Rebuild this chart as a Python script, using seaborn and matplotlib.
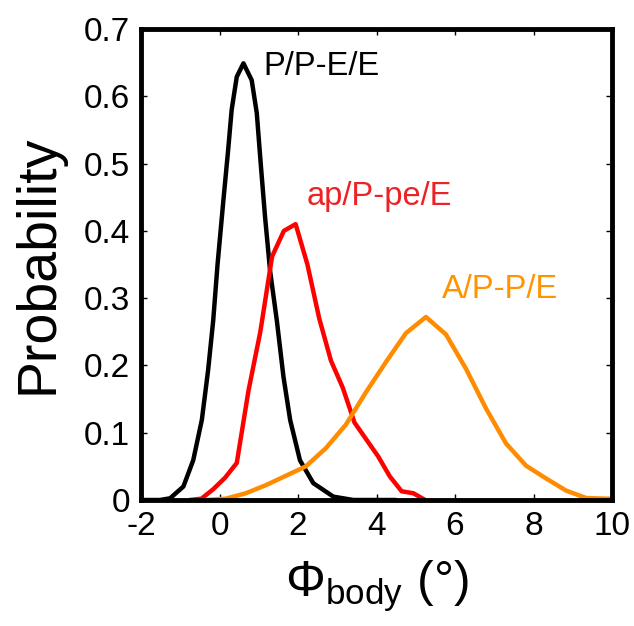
import matplotlib
matplotlib.use('Agg')
import matplotlib.pyplot as plt
import matplotlib.ticker as mticker
import seaborn as sns

# P/P-E/E (black)
pp_x = [-2.0, -1.52, -1.26, -0.92, -0.67, -0.45, -0.29, -0.16, -0.05, 0.10, 0.22, 0.31,
        0.44, 0.61, 0.82, 0.95, 1.05, 1.16, 1.29, 1.46, 1.63, 1.80, 2.05, 2.39, 2.90,
        3.41, 4.5]
pp_y = [0.0, 0.0, 0.0025, 0.02, 0.059, 0.119, 0.193, 0.267, 0.35, 0.446, 0.52, 0.58,
        0.629, 0.649, 0.624, 0.575, 0.50, 0.421, 0.34, 0.267, 0.183, 0.119, 0.059, 0.025,
        0.005, 0.0, 0.0]

# ap/P-pe/E (red)
ap_x = [-0.76, -0.46, -0.16, 0.14, 0.44, 0.74, 1.04, 1.34, 1.64, 1.94, 2.24, 2.54,
        2.84, 3.14, 3.44, 3.74, 4.04, 4.34, 4.64, 4.94, 5.24]
ap_y = [0.0, 0.002, 0.016, 0.033, 0.055, 0.163, 0.25, 0.362, 0.40, 0.41, 0.35, 0.27,
        0.207, 0.167, 0.115, 0.09, 0.065, 0.035, 0.013, 0.01, 0.0]

# A/P-P/E (orange)
a_x = [-0.35, 0.16, 0.67, 1.18, 1.69, 2.20, 2.71, 3.22, 3.73, 4.24, 4.75, 5.26,
       5.77, 6.28, 6.79, 7.30, 7.81, 8.32, 8.83, 9.34, 9.85, 10.36]
a_y = [0.0, 0.002, 0.01, 0.022, 0.036, 0.05, 0.077, 0.112, 0.16, 0.205, 0.248, 0.272,
       0.246, 0.195, 0.136, 0.084, 0.051, 0.032, 0.014, 0.003, 0.002, 0.002]

labels = ['P/P-E/E', 'ap/P-pe/E', 'A/P-P/E']

sns.set_style('ticks')
plt.rcParams['font.family'] = ['Liberation Sans', 'DejaVu Sans']
plt.rcParams['mathtext.fontset'] = 'custom'
plt.rcParams['mathtext.rm'] = 'Liberation Sans'
plt.rcParams['mathtext.it'] = 'Liberation Sans'
plt.rcParams['axes.unicode_minus'] = False

fig = plt.figure(figsize=(6.34, 6.26), dpi=100)
ax = fig.add_axes([141 / 634, 1 - 500 / 626, 471 / 634, 471 / 626])

sns.lineplot(x=pp_x, y=pp_y, color='black', lw=3.2, ax=ax)
sns.lineplot(x=ap_x, y=ap_y, color='#ff0000', lw=3.2, ax=ax)
sns.lineplot(x=a_x, y=a_y, color='#ff8c00', lw=3.2, ax=ax)

ax.text(1.12, 0.632, labels[0], color='black', fontsize=23.5)
ax.text(2.22, 0.438, labels[1], color='#ec2227', fontsize=23.5)
ax.text(5.66, 0.30, labels[2], color='#ff9400', fontsize=23.5)

ax.set_xlim(-2, 10)
ax.set_ylim(0, 0.7)
ax.set_xticks([-2, 0, 2, 4, 6, 8, 10])
ax.set_yticks([0, 0.1, 0.2, 0.3, 0.4, 0.5, 0.6, 0.7])
ax.yaxis.set_major_formatter(mticker.FormatStrFormatter('%g'))
ax.tick_params(direction='in', length=4, width=1, top=True, right=True,
               labelsize=24, pad=8, color='black', labelcolor='black')
for s in ax.spines.values():
    s.set_linewidth(3.5)
    s.set_color('black')
    s.set_visible(True)

ax.set_xlabel(r'$\Phi_{\mathrm{body}}$ (°)', fontsize=36, labelpad=12, color='black')
ax.set_ylabel('Probability', fontsize=40, labelpad=14, color='black')

fig.savefig('out.png', dpi=100)
